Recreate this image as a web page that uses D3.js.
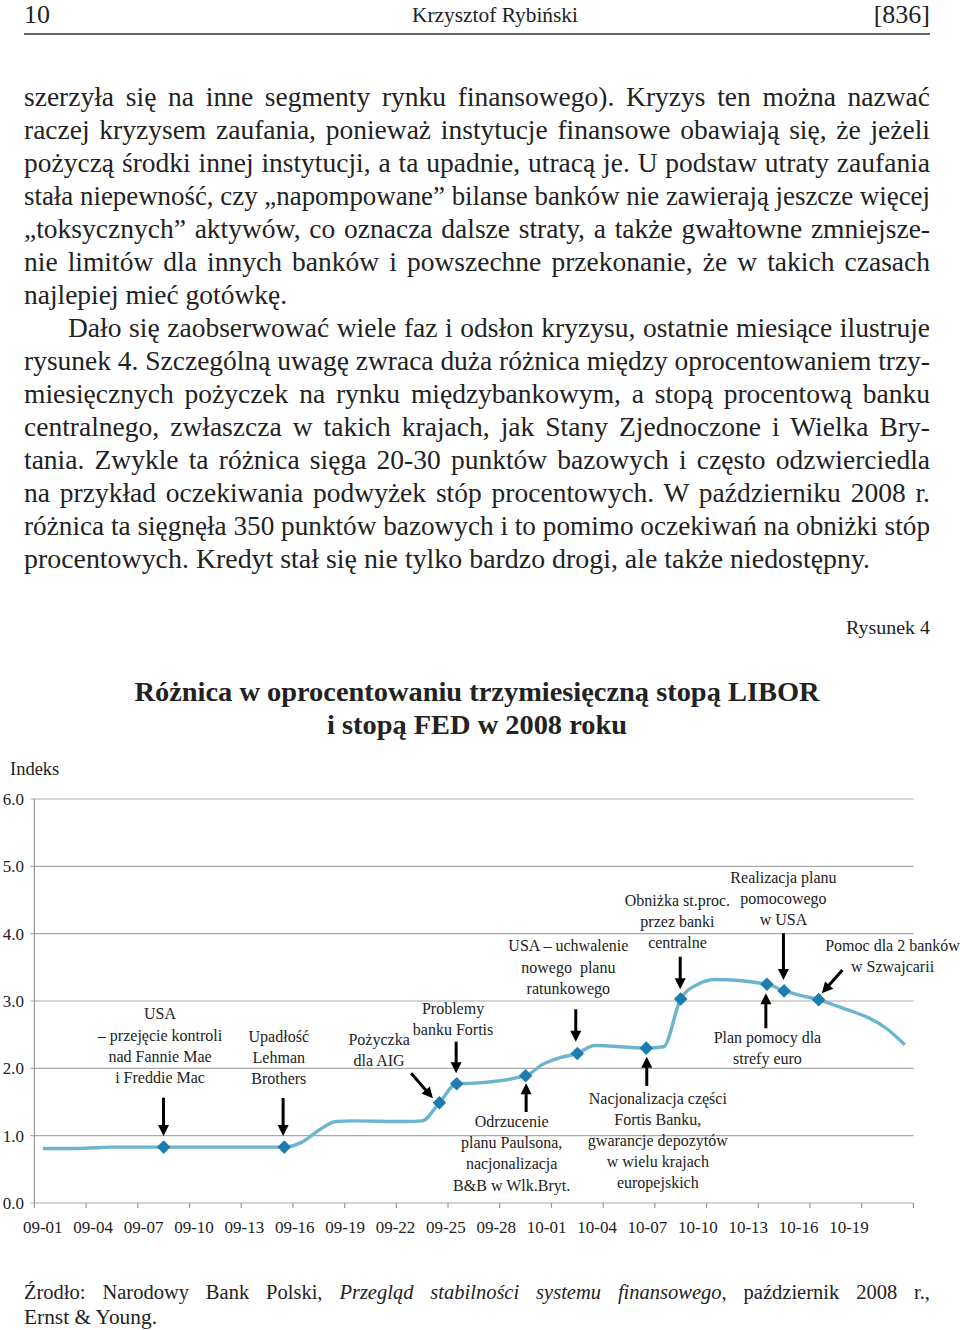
<!DOCTYPE html>
<html><head><meta charset="utf-8">
<script src="https://cdn.jsdelivr.net/npm/d3@7"></script>
<style>body{margin:0;background:#fff}svg{display:block}</style>
</head><body>
<svg id="c" width="960" height="1330"></svg>
<script>
// ---------- data ----------
const bodyLines = [
  "szerzyła się na inne segmenty rynku finansowego). Kryzys ten można nazwać",
  "raczej kryzysem zaufania, ponieważ instytucje finansowe obawiają się, że jeżeli",
  "pożyczą środki innej instytucji, a ta upadnie, utracą je. U podstaw utraty zaufania",
  "stała niepewność, czy „napompowane” bilanse banków nie zawierają jeszcze więcej",
  "„toksycznych” aktywów, co oznacza dalsze straty, a także gwałtowne zmniejsze-",
  "nie limitów dla innych banków i powszechne przekonanie, że w takich czasach",
  "najlepiej mieć gotówkę.",
  "Dało się zaobserwować wiele faz i odsłon kryzysu, ostatnie miesiące ilustruje",
  "rysunek 4. Szczególną uwagę zwraca duża różnica między oprocentowaniem trzy-",
  "miesięcznych pożyczek na rynku międzybankowym, a stopą procentową banku",
  "centralnego, zwłaszcza w takich krajach, jak Stany Zjednoczone i Wielka Bry-",
  "tania. Zwykle ta różnica sięga 20-30 punktów bazowych i często odzwierciedla",
  "na przykład oczekiwania podwyżek stóp procentowych. W październiku 2008 r.",
  "różnica ta sięgnęła 350 punktów bazowych i to pomimo oczekiwań na obniżki stóp",
  "procentowych. Kredyt stał się nie tylko bardzo drogi, ale także niedostępny."
];
const titleLines = ["Różnica w oprocentowaniu trzymiesięczną stopą LIBOR", "i stopą FED w 2008 roku"];
const dates = ["09-01","09-02","09-03","09-04","09-05","09-08","09-09","09-10","09-11","09-12",
  "09-15","09-16","09-17","09-18","09-19","09-22","09-23","09-24","09-25","09-26",
  "09-29","09-30","10-01","10-02","10-03","10-06","10-07","10-08","10-09","10-10",
  "10-13","10-14","10-15","10-16","10-17","10-20","10-21"];
const values = [0.81,0.81,0.81,0.82,0.83,0.83,0.83,0.83,0.83,0.83,
  0.83,0.90,1.08,1.21,1.22,1.21,1.22,1.49,1.77,1.78,
  1.89,2.06,2.16,2.22,2.34,2.30,2.32,3.03,3.25,3.32,
  3.25,3.15,3.08,3.02,2.93,2.58,2.35];
const markerDates = ["09-08","09-15","09-24","09-25","09-29","10-02","10-06","10-08","10-13","10-14","10-16"];
const xTickLabels = ["09-01","09-04","09-07","09-10","09-13","09-16","09-19","09-22","09-25","09-28","10-01","10-04","10-07","10-10","10-13","10-16","10-19"];
const yTickValues = [0,1,2,3,4,5,6];
// annotation text anchors in data units: day offset from 09-01, index value
const annotations = [
  {day:6.79, value:2.807, lines:["USA","– przejęcie kontroli","nad Fannie Mae","i Freddie Mac"]},
  {day:13.68, value:2.480, lines:["Upadłość","Lehman","Brothers"]},
  {day:19.50, value:2.431, lines:["Pożyczka","dla AIG"]},
  {day:23.79, value:2.892, lines:["Problemy","banku Fortis"]},
  {day:27.19, value:1.207, lines:["Odrzucenie","planu Paulsona,","nacjonalizacja","B&B w Wlk.Bryt."]},
  {day:30.48, value:3.817, lines:["USA – uchwalenie","nowego  planu","ratunkowego"]},
  {day:36.81, value:4.500, lines:["Obniżka st.proc.","przez banki","centralne"]},
  {day:42.96, value:4.831, lines:["Realizacja planu","pomocowego","w USA"]},
  {day:49.29, value:3.822, lines:["Pomoc dla 2 banków","w Szwajcarii"]},
  {day:42.03, value:2.462, lines:["Plan pomocy dla","strefy euro"]},
  {day:35.67, value:1.555, lines:["Nacjonalizacja części","Fortis Banku,","gwarancje depozytów","w wielu krajach","europejskich"]}
];
const arrows = [
  {from:[6.99,1.564], to:[6.99,0.995]},
  {from:[13.93,1.559], to:[13.93,0.995]},
  {from:[21.36,1.926], to:[22.62,1.555]},
  {from:[23.97,2.396], to:[23.97,1.926]},
  {from:[28.03,1.352], to:[28.03,1.778]},
  {from:[30.91,2.877], to:[30.91,2.396]},
  {from:[36.97,3.658], to:[36.97,3.174]},
  {from:[42.96,4.006], to:[42.96,3.312]},
  {from:[46.38,3.461], to:[45.19,3.114]},
  {from:[41.94,2.595], to:[41.94,3.114]},
  {from:[35.03,1.738], to:[35.03,2.173]}
];

// ---------- drawing ----------
const svg = d3.select("#c");
const SERIF = "'Liberation Serif','Times New Roman',serif";
const ink = "#222";

function fit(sel, target, justify) {
  const w = sel.node().getComputedTextLength();
  if (justify && w < target) {
    const n = (sel.text().match(/ /g) || []).length;
    if (n) sel.attr("word-spacing", (target - w) / n);
  } else {
    sel.attr("textLength", target).attr("lengthAdjust", "spacingAndGlyphs");
  }
}

// header
const hdr = svg.append("g").attr("font-family", SERIF).attr("fill", ink);
hdr.append("text").attr("x", 24).attr("y", 23).attr("font-size", 26).text("10");
hdr.append("text").attr("x", 495).attr("y", 22).attr("font-size", 21).attr("text-anchor", "middle").text("Krzysztof Rybiński")
  .call(s => s.attr("textLength", 166).attr("lengthAdjust", "spacingAndGlyphs"));
hdr.append("text").attr("x", 930).attr("y", 23).attr("font-size", 26).attr("text-anchor", "end").text("[836]");
hdr.append("line").attr("x1", 24).attr("x2", 930).attr("y1", 34).attr("y2", 34).attr("stroke", "#333").attr("stroke-width", 1.5);

// body text
const body = svg.append("g").attr("font-family", SERIF).attr("font-size", 27.5).attr("fill", ink);
bodyLines.forEach((t, i) => {
  const x0 = i === 7 ? 68 : 24;
  const t1 = body.append("text").attr("x", x0).attr("y", 106 + i * 33).text(t);
  if (i === 6) fit(t1, 263, false);
  else if (i === 14) fit(t1, 846, false);
  else fit(t1, 930 - x0, true);
});

// figure label + title
svg.append("text").attr("x", 930).attr("y", 634).attr("text-anchor", "end").attr("font-family", SERIF)
  .attr("font-size", 19).attr("fill", ink).text("Rysunek 4").call(s => fit(s, 84, false));
const tw = [685, 300];
titleLines.forEach((t, i) => {
  svg.append("text").attr("x", 477).attr("y", 701 + i * 33).attr("text-anchor", "middle")
    .attr("font-family", SERIF).attr("font-weight", "bold").attr("font-size", 28).attr("fill", ink)
    .text(t).call(s => fit(s, tw[i], false));
});
svg.append("text").attr("x", 10).attr("y", 775).attr("font-family", SERIF).attr("font-size", 18.5)
  .attr("fill", ink).text("Indeks");

// scales
const parse = d3.timeParse("%Y-%m-%d");
const start = parse("2008-09-01");
const dayOf = s => d3.timeDay.count(start, parse("2008-" + s));
const x = d3.scaleLinear().domain([-0.5, 50.5]).range([34.4, 913.4]);
const y = d3.scaleLinear().domain([0, 6]).range([1203, 799]);
const xl = d3.scalePoint().domain(xTickLabels).range([42.8, 849]);

// grid
const g = svg.append("g");
g.selectAll("line.grid").data(yTickValues).join("line").attr("class", "grid")
  .attr("x1", 30.5).attr("x2", 913.4).attr("y1", d => y(d)).attr("y2", d => y(d))
  .attr("stroke", "#a9a9a9").attr("stroke-width", 1.2);
g.append("line").attr("x1", 34.4).attr("x2", 34.4).attr("y1", y(6)).attr("y2", y(0))
  .attr("stroke", "#999").attr("stroke-width", 1.2);
// x ticks every 3 days
const xTickPos = d3.range(-0.5, 50.6, 3);
g.selectAll("line.xt").data(xTickPos).join("line").attr("class", "xt")
  .attr("x1", d => x(d)).attr("x2", d => x(d)).attr("y1", y(0)).attr("y2", y(0) + 5)
  .attr("stroke", "#999").attr("stroke-width", 1.2);
// y labels
g.selectAll("text.yl").data(yTickValues).join("text").attr("class", "yl")
  .attr("x", 24).attr("y", d => y(d) + 6).attr("text-anchor", "end")
  .attr("font-family", SERIF).attr("font-size", 17).attr("fill", ink).text(d => d3.format(".1f")(d));
// x labels
g.selectAll("text.xl").data(xTickLabels).join("text").attr("class", "xl")
  .attr("x", d => xl(d)).attr("y", 1233).attr("text-anchor", "middle")
  .attr("font-family", SERIF).attr("font-size", 17).attr("fill", ink).text(d => d);

// series
const series = dates.map((d, i) => ({day: dayOf(d), v: values[i], date: d}));
svg.append("path").datum(series)
  .attr("d", d3.line().x(d => x(d.day)).y(d => y(d.v)).curve(d3.curveMonotoneX))
  .attr("fill", "none").attr("stroke", "#6db5cd").attr("stroke-width", 3.4).attr("stroke-linejoin", "round");
const marks = series.filter(d => markerDates.includes(d.date));
svg.selectAll("path.mk").data(marks).join("path").attr("class", "mk")
  .attr("d", d3.symbol(d3.symbolSquare, 92)())
  .attr("transform", d => `translate(${x(d.day)},${y(d.v)}) rotate(45)`)
  .attr("fill", "#1e7db0");

// annotations
const ann = svg.append("g").attr("font-family", SERIF).attr("font-size", 16).attr("fill", ink).attr("text-anchor", "middle");
annotations.forEach(a => {
  a.lines.forEach((t, i) => {
    ann.append("text").attr("x", x(a.day)).attr("y", y(a.value) + 5.5 + i * 21.1)
      .attr("xml:space", "preserve").text(t);
  });
});
// arrows
const ag = svg.append("g");
arrows.forEach(a => {
  const x1 = x(a.from[0]), y1 = y(a.from[1]), x2 = x(a.to[0]), y2 = y(a.to[1]);
  const dx = x2 - x1, dy = y2 - y1, L = Math.hypot(dx, dy), ux = dx / L, uy = dy / L;
  const hl = 11, hw = 5.5;
  ag.append("line").attr("x1", x1).attr("y1", y1).attr("x2", x2 - ux * (hl - 2)).attr("y2", y2 - uy * (hl - 2))
    .attr("stroke", "#000").attr("stroke-width", 3);
  const bx = x2 - ux * hl, by = y2 - uy * hl;
  ag.append("path").attr("d", `M${x2},${y2}L${bx - uy * hw},${by + ux * hw}L${bx + uy * hw},${by - ux * hw}Z`).attr("fill", "#000");
});

// source
const src = svg.append("g").attr("font-family", SERIF).attr("font-size", 20.5).attr("fill", ink);
const s1 = src.append("text").attr("x", 24).attr("y", 1299);
s1.append("tspan").text("Źrodło: Narodowy Bank Polski, ");
s1.append("tspan").attr("font-style", "italic").text("Przegląd stabilności systemu finansowego");
s1.append("tspan").text(", październik 2008 r.,");
fit(s1, 906, true);
src.append("text").attr("x", 24).attr("y", 1324).text("Ernst & Young.").call(s => fit(s, 133, false));
</script>
</body></html>
